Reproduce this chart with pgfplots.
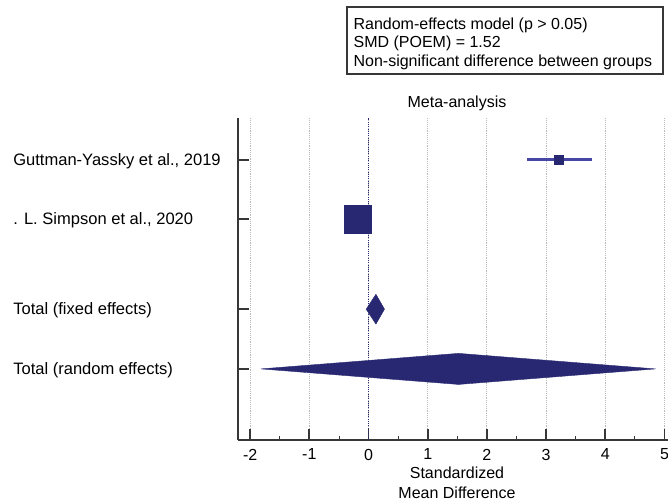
\documentclass[border=0pt]{standalone}
\usepackage{fontspec}
\setmainfont{Liberation Sans}
\usepackage{pgfplots}
\pgfplotsset{compat=1.18}
\definecolor{navy}{RGB}{40,40,114}
\definecolor{ciblue}{RGB}{70,70,165}
\definecolor{gridgray}{RGB}{185,185,185}
\definecolor{axisgray}{RGB}{55,55,55}
\newcommand{\fs}{\fontsize{12pt}{15pt}\selectfont}
\newcommand{\fl}{\fontsize{12.4pt}{15pt}\selectfont}
\begin{document}
\begin{tikzpicture}
\useasboundingbox (0,0) rectangle (501pt,375pt);
\begin{axis}[
  at={(178.3pt,45pt)}, anchor=south west,
  scale only axis, width=322.7pt, height=241.5pt,
  xmin=-2.21, xmax=5.06, ymin=-1.19, ymax=4.2,
  axis x line*=bottom, axis y line*=left,
  axis line style={axisgray, line width=1.3pt},
  xtick={-2,-1,0,1,2,3,4,5},
  xticklabels={-2,-1,0,1,2,3,4,5},
  minor x tick num=1,
  ytick={0,1,2.51,3.5},
  yticklabels={{Total (random effects)},{Total (fixed effects)},{. L. Simpson et al., 2020},{Guttman-Yassky et al., 2019}},
  tick align=inside,
  major tick length=8.2pt, minor tick length=3pt,
  every tick/.style={axisgray, line width=1.3pt},
  minor tick style={axisgray, line width=0.6pt},
  xmajorgrids,
  major grid style={gridgray, densely dotted, line width=0.6pt},
  xticklabel style={font=\fs, inner sep=0pt, anchor=north, yshift=-6.5pt},
  yticklabel style={font=\fl, inner sep=0pt, anchor=base west, xshift=-168.5pt, yshift=-4pt},
  clip=false,
]
% zero line
\addplot[navy, densely dotted, line width=0.7pt] coordinates {(0,-1.19) (0,4.2)};
% Guttman-Yassky CI and point
\addplot[ciblue, line width=2pt] coordinates {(2.68,3.5) (3.78,3.5)};
\addplot[only marks, mark=square*, mark size=3.4pt, mark options={fill=navy, draw=navy}] coordinates {(3.21,3.5)};
% Simpson CI and point
\addplot[ciblue, line width=2pt] coordinates {(-0.32,2.51) (-0.04,2.51)};
\addplot[only marks, mark=square*, mark size=10.4pt, mark options={fill=navy, draw=navy}] coordinates {(-0.18,2.51)};
% fixed effects diamond
\addplot[fill=navy, draw=navy, line width=0.3pt] coordinates {(-0.04,1) (0.125,1.25) (0.27,1) (0.125,0.75) (-0.04,1)} -- cycle;
% random effects diamond
\addplot[fill=navy, draw=navy, line width=0.3pt] coordinates {(-1.82,0) (1.52,0.26) (4.85,0) (1.52,-0.26) (-1.82,0)} -- cycle;
\end{axis}
\node[font=\fs, inner sep=0pt] at (342.75pt,297.75pt) {Meta-analysis};
\node[font=\fs, inner sep=0pt, align=center] at (342.75pt,12.8pt) {Standardized\\Mean Difference};
\draw[axisgray, line width=1.1pt] (260.25pt,369.75pt) rectangle (497.25pt,319.5pt);
\node[font=\fs, inner sep=0pt, anchor=base west] at (265pt,352.9pt) {Random-effects model (p > 0.05)};
\node[font=\fs, inner sep=0pt, anchor=base west] at (265pt,339pt) {SMD (POEM) = 1.52};
\node[font=\fs, inner sep=0pt, anchor=base west] at (265pt,325.1pt) {Non-significant difference between groups};
\end{tikzpicture}
\end{document}
